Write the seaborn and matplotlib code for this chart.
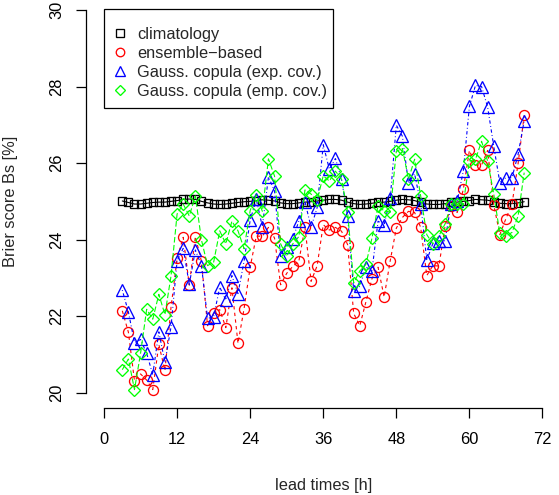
import numpy as np
import pandas as pd
import matplotlib
matplotlib.use("Agg")
import matplotlib.pyplot as plt
from matplotlib.patches import Rectangle
import seaborn as sns

lead_times = list(range(3, 70))

climatology = [25.01, 24.97, 24.93, 24.93, 24.95, 24.97, 24.98, 24.98, 25.00, 25.02,
               25.05, 25.06, 25.05, 25.00, 24.96, 24.93, 24.92, 24.93, 24.95, 24.97,
               24.99, 25.00, 25.02, 25.04, 25.03, 25.01, 24.96, 24.94, 24.94, 24.96,
               24.98, 24.99, 25.01, 25.03, 25.05, 25.05, 25.03, 24.98, 24.94, 24.92,
               24.93, 24.95, 24.97, 24.98, 25.00, 25.03, 25.05, 25.04, 25.02, 24.97,
               24.93, 24.92, 24.92, 24.94, 24.97, 24.98, 25.00, 25.02, 25.05, 25.04,
               25.03, 24.99, 24.95, 24.94, 24.94, 24.96, 24.99]

ensemble = [22.14, 21.58, 20.31, 20.49, 20.33, 20.08, 21.26, 20.58, 22.23, 23.51,
            24.06, 22.81, 24.08, 23.43, 21.75, 22.07, 22.17, 21.70, 22.74, 21.29,
            22.20, 23.28, 24.09, 24.09, 24.32, 24.04, 22.82, 23.12, 23.30, 23.44,
            24.32, 22.91, 23.32, 24.39, 24.25, 24.32, 24.22, 23.87, 22.07, 21.75,
            22.37, 22.98, 23.28, 22.50, 23.45, 24.30, 24.58, 24.74, 24.71, 24.32,
            23.06, 23.32, 23.31, 24.35, 24.88, 24.71, 25.31, 26.33, 25.95, 25.95,
            26.33, 24.91, 24.13, 24.55, 24.93, 25.99, 27.25]

gauss_exp = [22.68, 22.11, 21.31, 21.39, 21.03, 20.47, 21.59, 20.79, 21.72, 23.45,
             23.77, 22.83, 23.73, 23.32, 21.94, 21.98, 22.76, 22.42, 23.06, 22.59,
             23.44, 24.51, 25.05, 24.34, 25.64, 25.27, 23.56, 23.82, 24.02, 24.49,
             24.99, 24.32, 24.84, 26.48, 25.84, 26.12, 25.58, 24.62, 22.66, 22.78,
             23.28, 23.19, 24.48, 24.39, 25.08, 26.99, 26.70, 25.47, 25.72, 24.94,
             23.46, 23.90, 23.97, 23.97, 24.94, 25.01, 25.79, 27.48, 28.03, 28.00,
             27.46, 26.44, 25.49, 25.62, 25.62, 26.23, 27.11]

gauss_emp = [20.60, 20.88, 20.08, 21.03, 22.18, 21.92, 22.57, 22.04, 23.05, 24.67,
             24.93, 24.62, 25.14, 23.99, 23.32, 23.41, 24.23, 23.89, 24.48, 24.23,
             23.76, 24.76, 25.17, 24.74, 26.11, 25.66, 23.89, 23.56, 23.89, 24.08,
             25.30, 25.19, 25.03, 25.67, 25.53, 25.79, 25.58, 24.72, 22.87, 23.18,
             23.35, 24.04, 24.88, 24.75, 24.72, 26.31, 26.38, 25.58, 26.10, 25.14,
             24.13, 23.89, 24.10, 24.41, 24.93, 24.93, 24.93, 26.05, 26.10, 26.57,
             26.05, 25.19, 24.16, 24.09, 24.19, 24.62, 25.75]

labels = ["climatology", "ensemble\u2212based",
          "Gauss. copula (exp. cov.)", "Gauss. copula (emp. cov.)"]
x_ticks = [0, 12, 24, 36, 48, 60, 72]
y_ticks = [20, 22, 24, 26, 28, 30]

sns.set_style("white")
plt.rcParams["font.family"] = ["Liberation Sans", "DejaVu Sans"]
fs = 11.8

W, H = 559, 495
fig = plt.figure(figsize=(W / 100, H / 100), dpi=100)
# axes region in pixels
x0, x1 = 86.5, 560.0
ytop, ybot = -5.3, 408.0
ax = fig.add_axes([x0 / W, 1 - ybot / H, (x1 - x0) / W, (ybot - ytop) / H])
ax.set_facecolor("none")

series = [
    (climatology, "black", "s", 6.3, "-"),
    (ensemble, "#FF0000", "o", 7.2, (0, (3, 3))),
    (gauss_exp, "#0000FF", "^", 8.0, (0, (0.8, 2.2, 3.0, 2.2))),
    (gauss_emp, "#00FF00", "D", 6.0, (0, (5, 2.2))),
]
handles = []
for (vals, col, mk, ms, ls), lab in zip(series, labels):
    df = pd.DataFrame({"lead": lead_times, "bs": vals})
    sns.lineplot(data=df, x="lead", y="bs", ax=ax, color=col, marker=mk,
                 markersize=ms, markerfacecolor="none", markeredgecolor=col,
                 markeredgewidth=0.95, linewidth=0.8, linestyle=ls,
                 sort=False, errorbar=None, legend=False)
    h, = ax.plot([], [], linestyle="none", marker=mk, markersize=ms * 0.85,
                 markerfacecolor="none", markeredgecolor=col, markeredgewidth=0.95)
    handles.append(h)

ax.set_xlim(-2.88, 74.88)
ax.set_ylim(19.6, 30.4)
for s in ["top", "right"]:
    ax.spines[s].set_visible(False)
for s in ["left", "bottom"]:
    ax.spines[s].set_color("black")
    ax.spines[s].set_linewidth(0.9)
ax.spines["bottom"].set_bounds(0, 72)
ax.spines["left"].set_bounds(20, 30)
ax.set_xticks(x_ticks)
ax.set_yticks(y_ticks)
ax.set_xticklabels([str(v) for v in x_ticks], fontsize=fs)
ax.set_yticklabels([str(v) for v in y_ticks], fontsize=fs, rotation=90, va="center")
ax.tick_params(axis="both", direction="out", length=7.2, width=0.9, color="black",
               labelcolor="black", bottom=True, left=True)
ax.tick_params(axis="x", pad=10)
ax.tick_params(axis="y", pad=9)
ax.set_xlabel("lead times [h]", fontsize=fs, labelpad=0)
ax.set_ylabel("Brier score Bs [%]", fontsize=fs, labelpad=0)
ax.xaxis.set_label_coords((323.5 - x0) / (x1 - x0), (ybot - 478) / (ybot - ytop))
ax.yaxis.set_label_coords((18 - x0) / (x1 - x0), (ybot - 201) / (ybot - ytop))
ax.grid(False)

# legend box (R style)
fig.patches.append(Rectangle((104 / W, 1 - 108.3 / H), (333 - 104) / W, (108.3 - 9.3) / H,
                             transform=fig.transFigure, fill=False, edgecolor="black",
                             linewidth=0.9, zorder=5))
leg = ax.legend(handles, labels, loc="upper left",
                bbox_to_anchor=(104 / W, 1 - 19.0 / H), bbox_transform=fig.transFigure,
                borderaxespad=0, fontsize=fs, frameon=False,
                borderpad=0.5, labelspacing=0.24,
                handlelength=0.9, handletextpad=0.6)

fig.savefig("out.png", dpi=100, facecolor="white")
